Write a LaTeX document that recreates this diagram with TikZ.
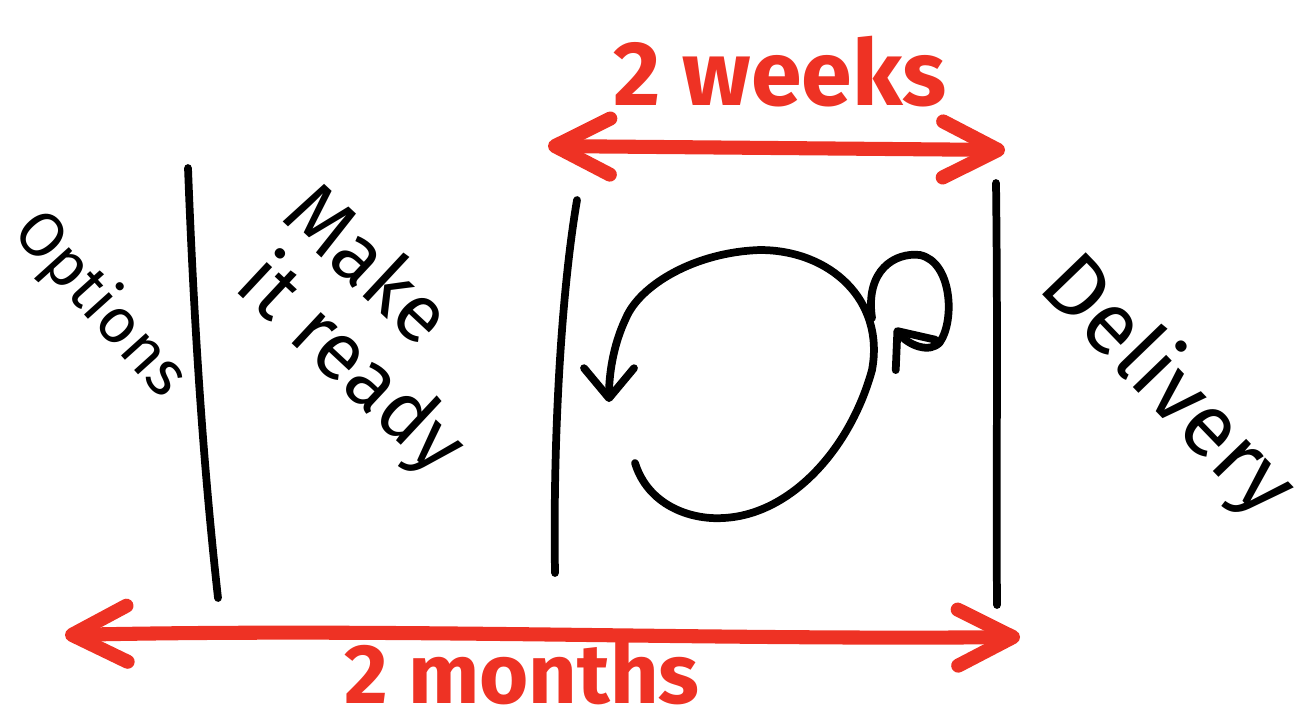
\documentclass[tikz,border=0pt]{standalone}
\usepackage{fontspec}
\setmainfont{Fira Sans}
\usetikzlibrary{arrows.meta}
\definecolor{sketchred}{RGB}{238,50,36}
\tikzset{
  blackstroke/.style={line width=2.2pt, line cap=round, line join=round, black},
  redstroke/.style={line width=4pt, line cap=round, line join=round, sketchred},
  redhead/.tip={Straight Barb[length=5.5mm, width=5.6mm, line cap=round, line join=round]},
  blackhead/.tip={Straight Barb[length=3mm, width=5mm, line cap=round, line join=round]},
  blacktext/.style={font=\fontsize{23}{24}\selectfont, inner sep=0pt},
  redtext/.style={font=\bfseries\fontsize{26}{27}\selectfont, text=sketchred, inner sep=0pt}
}
\begin{document}
\begin{tikzpicture}[x=0.01cm, y=-0.01cm]
\useasboundingbox (0,0) rectangle (1304,714);
% divider lines
\draw[blackstroke] (188,168) .. controls (195,350) and (205,480) .. (218,598);
\draw[blackstroke] (577,200) .. controls (560,300) and (553,450) .. (555,573);
\draw[blackstroke] (996,183) .. controls (998,350) and (996,480) .. (997,605);
% labels
\node[blacktext, rotate=-48, font=\fontsize{18}{19}\selectfont] (options) at (100,305) {Options};
\node[blacktext, rotate=-43] (make) at (370,262) {Make};
\node[blacktext, rotate=-43] (ready) at (350,366) {it ready};
\node[blacktext, rotate=-46, font=\fontsize{25}{26}\selectfont] (delivery) at (1167,387) {Delivery};
% red arrows
\coordinate (wl) at (548,146);
\coordinate (wr) at (1005,150);
\coordinate (ml) at (65,635);
\coordinate (mr) at (1020,637);
\draw[redstroke, {redhead}-{redhead}] (wl) -- (wr);
\draw[redstroke, {redhead}-{redhead}] (ml) .. controls (400,628) and (700,640) .. (mr);
\node[redtext] (weeks) at (780,72) {2 weeks};
\node[redtext, font=\bfseries\fontsize{24}{25}\selectfont] (months) at (522,672) {2 months};
% cycle
\coordinate (cs) at (635,463);
\coordinate (ce) at (609,402);
\draw[blackstroke, -{blackhead}] (cs) .. controls (648,505) and (690,520) .. (723,518)
  .. controls (790,515) and (850,450) .. (872,370)
  .. controls (885,300) and (830,250) .. (760,250)
  .. controls (695,252) and (640,285) .. (626,318)
  .. controls (613,345) and (609,375) .. (ce);
% small loop
\coordinate (ls) at (872,318);
\coordinate (le) at (895,328);
\draw[blackstroke, -{blackhead}] (ls) .. controls (865,270) and (895,252) .. (920,255)
  .. controls (952,262) and (955,320) .. (940,342)
  .. controls (930,354) and (908,345) .. (le);
\end{tikzpicture}
\end{document}
